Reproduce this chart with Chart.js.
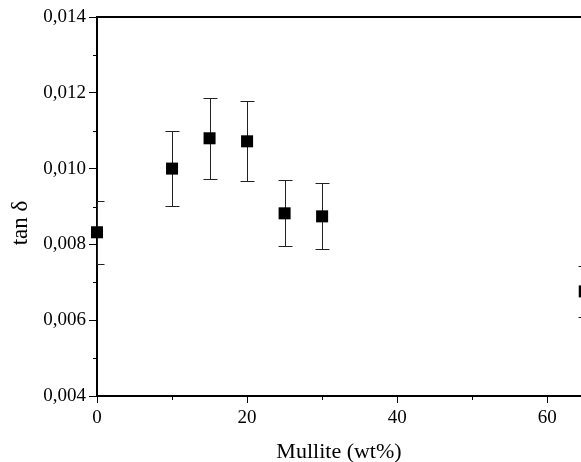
<!DOCTYPE html>
<html>
<head>
<meta charset="utf-8">
<script src="https://cdn.jsdelivr.net/npm/chart.js@4.4.0/dist/chart.umd.min.js"></script>
<style>
  body { margin: 0; background: #fff; }
  #wrap { width: 581px; height: 462px; }
</style>
</head>
<body>
<div id="wrap"><canvas id="tanChart"></canvas></div>
<script>
// mullite content (wt%) and loss tangent
var mullite = [0, 10, 15, 20, 25, 30, 65];
var tanDelta = [0.00832, 0.0100, 0.0108, 0.01072, 0.00882, 0.00874, 0.00676];
var tanErr = [0.00083, 0.0010, 0.00107, 0.00106, 0.00087, 0.00087, 0.00067];
var xTicks = [0, 20, 40, 60];
var xMinor = [10, 30, 50];
var yMinor = [0.005, 0.007, 0.009, 0.011, 0.013];

var serif = 'Liberation Serif';

var points = mullite.map(function (m, i) {
  return { x: m, y: tanDelta[i] };
});

var extras = {
  id: 'extras',
  beforeDatasetsDraw: function (chart) {
    var ctx = chart.ctx, xs = chart.scales.x, ys = chart.scales.y, a = chart.chartArea;
    ctx.save();
    ctx.beginPath();
    ctx.rect(a.left, a.top, a.right - a.left, a.bottom - a.top);
    ctx.clip();
    ctx.strokeStyle = '#222';
    ctx.lineWidth = 1;
    for (var i = 0; i < mullite.length; i++) {
      var px = Math.round(xs.getPixelForValue(mullite[i])) + 0.5;
      var top = Math.round(ys.getPixelForValue(tanDelta[i] + tanErr[i])) + 0.5;
      var bot = Math.round(ys.getPixelForValue(tanDelta[i] - tanErr[i])) + 0.5;
      ctx.beginPath();
      ctx.moveTo(px, top); ctx.lineTo(px, bot);
      ctx.moveTo(px - 7, top); ctx.lineTo(px + 7, top);
      ctx.moveTo(px - 7, bot); ctx.lineTo(px + 7, bot);
      ctx.stroke();
    }
    ctx.restore();
  },
  afterDraw: function (chart) {
    var ctx = chart.ctx, xs = chart.scales.x, ys = chart.scales.y, a = chart.chartArea;
    ctx.save();
    // top frame line
    ctx.strokeStyle = '#000';
    ctx.lineWidth = 2;
    ctx.beginPath();
    ctx.moveTo(a.left, a.top); ctx.lineTo(chart.width, a.top);
    ctx.stroke();
    // minor ticks
    ctx.lineWidth = 1;
    ctx.beginPath();
    xMinor.forEach(function (v) {
      var px = Math.round(xs.getPixelForValue(v)) + 0.5;
      ctx.moveTo(px, a.bottom); ctx.lineTo(px, a.bottom + 4);
    });
    yMinor.forEach(function (v) {
      var py = Math.round(ys.getPixelForValue(v)) + 0.5;
      ctx.moveTo(a.left, py); ctx.lineTo(a.left - 4, py);
    });
    ctx.stroke();
    // axis titles
    ctx.fillStyle = '#000';
    ctx.font = '22px "' + serif + '"';
    ctx.textAlign = 'center';
    ctx.textBaseline = 'middle';
    ctx.fillText('Mullite (wt%)', (a.left + a.right) / 2, 452);
    ctx.translate(21, 223);
    ctx.rotate(-Math.PI / 2);
    ctx.font = '23px "' + serif + '"';
    ctx.fillText('tan δ', 0, 0);
    ctx.restore();
  }
};

new Chart(document.getElementById('tanChart'), {
  type: 'scatter',
  data: {
    datasets: [{
      data: points,
      pointStyle: 'rect',
      pointRadius: 8.5,
      pointHoverRadius: 8.5,
      backgroundColor: '#000',
      borderWidth: 0,
      clip: false
    }]
  },
  options: {
    responsive: true,
    maintainAspectRatio: false,
    animation: false,
    layout: { autoPadding: false, padding: { top: 17, right: 0, left: 0, bottom: 0 } },
    plugins: { legend: { display: false }, tooltip: { enabled: false } },
    scales: {
      x: {
        type: 'linear',
        min: 0,
        max: 64.5,
        afterFit: function (s) { s.height = 66; },
        afterBuildTicks: function (s) { s.ticks = xTicks.map(function (v) { return { value: v }; }); },
        border: { display: true, color: '#000', width: 2 },
        grid: { drawOnChartArea: false, color: '#000', tickLength: 7, tickWidth: 1 },
        ticks: { color: '#000', padding: 4, maxRotation: 0, font: { family: serif, size: 19 } }
      },
      y: {
        type: 'linear',
        min: 0.004,
        max: 0.014,
        afterFit: function (s) { s.width = 97; },
        border: { display: true, color: '#000', width: 2 },
        grid: { drawOnChartArea: false, color: '#000', tickLength: 8, tickWidth: 1 },
        ticks: {
          stepSize: 0.002,
          color: '#000',
          padding: 3,
          font: { family: serif, size: 19 },
          callback: function (v) { return v.toFixed(3).replace('.', ','); }
        }
      }
    }
  },
  plugins: [extras]
});
</script>
</body>
</html>
